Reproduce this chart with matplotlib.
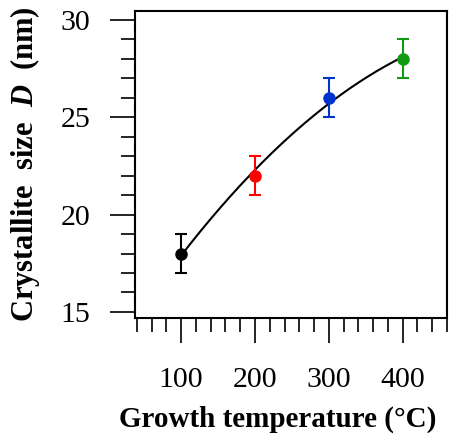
import numpy as np
import matplotlib
matplotlib.use('Agg')
import matplotlib.pyplot as plt
from matplotlib.ticker import MultipleLocator

temps = [100, 200, 300, 400]
sizes = [18, 22, 26, 28]
errs = [1, 1, 1, 1]
colors = ['black', '#ff0000', '#0033cc', '#119911']

plt.rcParams['font.family'] = ['Liberation Serif']
plt.rcParams['mathtext.fontset'] = 'custom'
plt.rcParams['mathtext.bfit'] = 'Liberation Serif:bold:italic'

fig = plt.figure(figsize=(4.65, 4.4), dpi=100)
ax = fig.add_axes([0.2903, 0.2773, 0.671, 0.6977])

# fit curve through the points
coef = np.polyfit(temps, sizes, 2)
xf = np.linspace(temps[0], temps[-1], 200)
ax.plot(xf, np.polyval(coef, xf), color='black', lw=1.5, zorder=2)

for t, s, e, c in zip(temps, sizes, errs, colors):
    ax.errorbar(t, s, yerr=e, fmt='o', color=c, ms=8, elinewidth=1.5,
                capsize=4.5, capthick=1.5, zorder=3)

ax.set_xlim(37.5, 460)
ax.set_ylim(14.69, 30.46)
ax.xaxis.set_major_locator(MultipleLocator(100))
ax.xaxis.set_minor_locator(MultipleLocator(20))
ax.yaxis.set_major_locator(MultipleLocator(5))
ax.yaxis.set_minor_locator(MultipleLocator(1))
ax.set_xticks([100, 200, 300, 400])

ax.tick_params(which='major', direction='out', length=18, width=1.2, labelsize=21.5)
ax.tick_params(axis='x', which='major', pad=17)
ax.tick_params(axis='y', which='major', pad=14)
ax.tick_params(which='minor', direction='out', length=10, width=1.2)
for sp in ax.spines.values():
    sp.set_linewidth(1.5)

fig.text(0.071, 0.628, r'Crystallite  size  $\mathbfit{D}$  (nm)', rotation=90,
         rotation_mode='anchor', fontsize=22, fontweight='bold',
         ha='center', va='baseline')
fig.text(0.597, 0.0295, r'Growth temperature (°C)', fontsize=21,
         fontweight='bold', ha='center', va='baseline')

fig.savefig('out.png', dpi=100)
